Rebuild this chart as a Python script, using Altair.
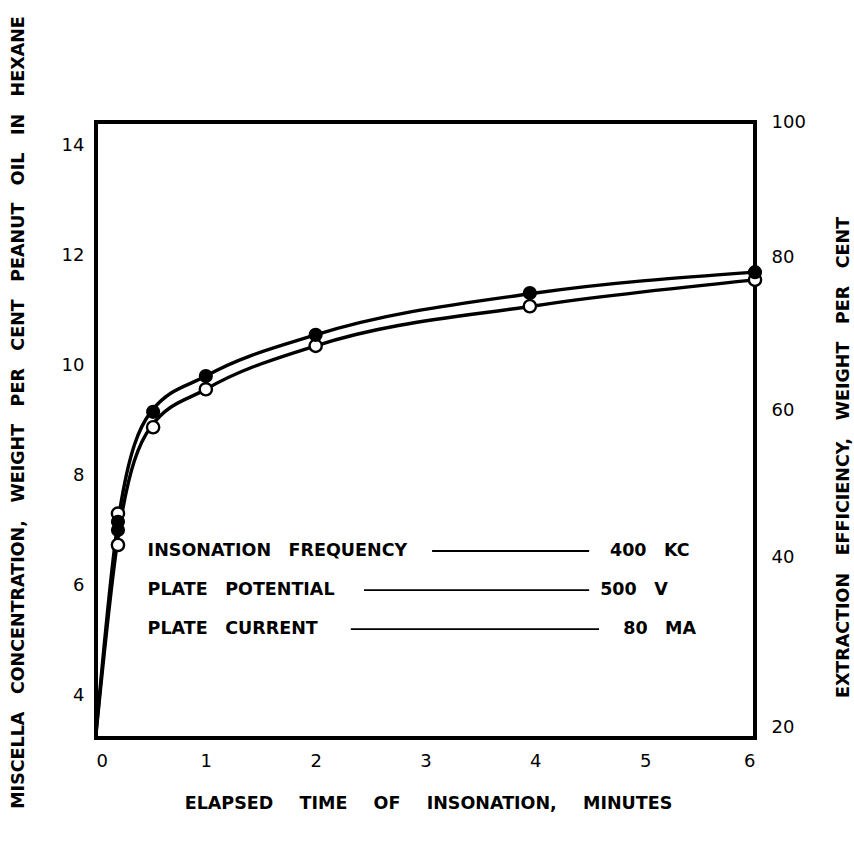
import altair as alt
import pandas as pd

# ---- data ----
curve_t = [0, 0.2, 0.5, 1, 2, 4, 6]
curve_upper = [3.3, 7.15, 9.15, 9.8, 10.55, 11.31, 11.69]
curve_lower = [3.3, 6.85, 8.88, 9.56, 10.35, 11.08, 11.55]

filled_t = [0.2, 0.2, 0.52, 1.0, 2.0, 3.95, 6.0]
filled_v = [7.15, 7.0, 9.15, 9.8, 10.55, 11.31, 11.69]
open_t = [0.2, 0.2, 0.52, 1.0, 2.0, 3.95, 6.0]
open_v = [7.3, 6.73, 8.87, 9.56, 10.35, 11.07, 11.55]

left_ticks = [4, 6, 8, 10, 12, 14]
x_ticks = [0, 1, 2, 3, 4, 5, 6]
right_labels = ["100", "80", "60", "40", "20"]
right_pos = [14.42, 11.96, 9.18, 6.51, 3.42]   # positions in left-axis units

EM = "\u2003"
legend_names = ["INSONATION" + EM + "FREQUENCY", "PLATE" + EM + "POTENTIAL", "PLATE" + EM + "CURRENT"]
legend_values = ["400" + EM + "KC", "500" + EM + "V", "80" + EM + "MA"]
legend_y = [6.62, 5.91, 5.2]
legend_name_t = [0.47, 0.47, 0.47]
legend_val_t = [4.68, 4.59, 4.80]
leader_start = [3.06, 2.44, 2.32]
leader_end = [4.49, 4.49, 4.58]

Y_DOMAIN = [3.22, 14.42]
FONT = "DejaVu Sans"
TFS = 17.5

# ---- tables ----
curves = pd.DataFrame(
    {"t": curve_t * 2, "v": curve_upper + curve_lower,
     "s": ["upper"] * len(curve_t) + ["lower"] * len(curve_t)}
)
filled = pd.DataFrame({"t": filled_t, "v": filled_v})
opened = pd.DataFrame({"t": open_t, "v": open_v})
names = pd.DataFrame({"t": legend_name_t, "v": legend_y, "label": legend_names})
vals = pd.DataFrame({"t": legend_val_t, "v": legend_y, "label": legend_values})
leaders = pd.DataFrame({"t": leader_start, "t2": leader_end, "v": legend_y})

x_enc = alt.X(
    "t:Q",
    scale=alt.Scale(domain=[0, 6], nice=False, zero=False),
    axis=alt.Axis(
        values=x_ticks, grid=False, domain=False, ticks=False,
        labelPadding=14, labelFontSize=18, labelFont=FONT, labelColor="black",
        title=(EM + "\u2002").join("ELAPSED TIME OF INSONATION, MINUTES".split(" ")),
        titleFont=FONT, titleFontSize=TFS, titleFontWeight="bold", titleColor="black",
        titleX=332, titleY=65, titleBaseline="middle",
    ),
)

y_enc = alt.Y(
    "v:Q",
    scale=alt.Scale(domain=Y_DOMAIN, nice=False, zero=False),
    axis=alt.Axis(
        values=left_ticks, grid=False, domain=False, ticks=False,
        labelPadding=12, labelFontSize=18, labelFont=FONT, labelColor="black",
        title=EM.join("MISCELLA CONCENTRATION, WEIGHT PER CENT PEANUT OIL IN HEXANE".split(" ")),
        titleFont=FONT, titleFontSize=TFS, titleFontWeight="bold", titleColor="black",
        titleX=-78, titleY=290, titleAngle=270, titleBaseline="middle", titleAlign="center",
    ),
)

lines = alt.Chart(curves).mark_line(
    interpolate="monotone", color="black", strokeWidth=3.4
).encode(x=x_enc, y=y_enc, detail="s:N")

open_pts = alt.Chart(opened).mark_point(
    shape="circle", size=150, filled=True, fill="white", stroke="black",
    strokeWidth=2.4, opacity=1
).encode(x=x_enc, y=y_enc)

name_text = alt.Chart(names).mark_text(
    align="left", baseline="middle", font=FONT, fontSize=TFS, fontWeight="bold", color="black"
).encode(x=x_enc, y=y_enc, text="label:N")

val_text = alt.Chart(vals).mark_text(
    align="left", baseline="middle", font=FONT, fontSize=TFS, fontWeight="bold", color="black"
).encode(x=x_enc, y=y_enc, text="label:N")

leader_rules = alt.Chart(leaders).mark_rule(color="black", strokeWidth=1.8).encode(
    x=x_enc, x2="t2:Q", y=y_enc
)

base = alt.layer(lines, open_pts, leader_rules, name_text, val_text)

label_expr = ""
for i in range(len(right_pos) - 1):
    mid = (right_pos[i] + right_pos[i + 1]) / 2
    label_expr += f"datum.value > {mid:.3f} ? '{right_labels[i]}' : "
label_expr += f"'{right_labels[-1]}'"

filled_pts = alt.Chart(filled).mark_point(
    shape="circle", size=160, filled=True, fill="black", stroke="black",
    strokeWidth=1.5, opacity=1
).encode(
    x=x_enc,
    y=alt.Y(
        "v:Q",
        scale=alt.Scale(domain=Y_DOMAIN, nice=False, zero=False),
        axis=alt.Axis(
            orient="right", values=right_pos, labelExpr=label_expr,
            grid=False, domain=False, ticks=False,
            labelPadding=16, labelFontSize=18, labelFont=FONT, labelColor="black",
            title=EM.join("EXTRACTION EFFICIENCY, WEIGHT PER CENT".split(" ")),
            titleFont=FONT, titleFontSize=TFS, titleFontWeight="bold", titleColor="black",
            titleX=88, titleY=335, titleAngle=270, titleBaseline="middle", titleAlign="center",
        ),
    ),
)

chart = (
    alt.layer(base, filled_pts)
    .resolve_scale(y="independent")
    .properties(
        width=659, height=616,
        autosize=alt.AutoSizeParams(type="none"),
        padding={"left": 96, "top": 122, "right": 99, "bottom": 117},
        background="white",
    )
    .configure_view(stroke="black", strokeWidth=4)
)

chart.save("out.html", embed_options={"renderer": "svg", "actions": False})
